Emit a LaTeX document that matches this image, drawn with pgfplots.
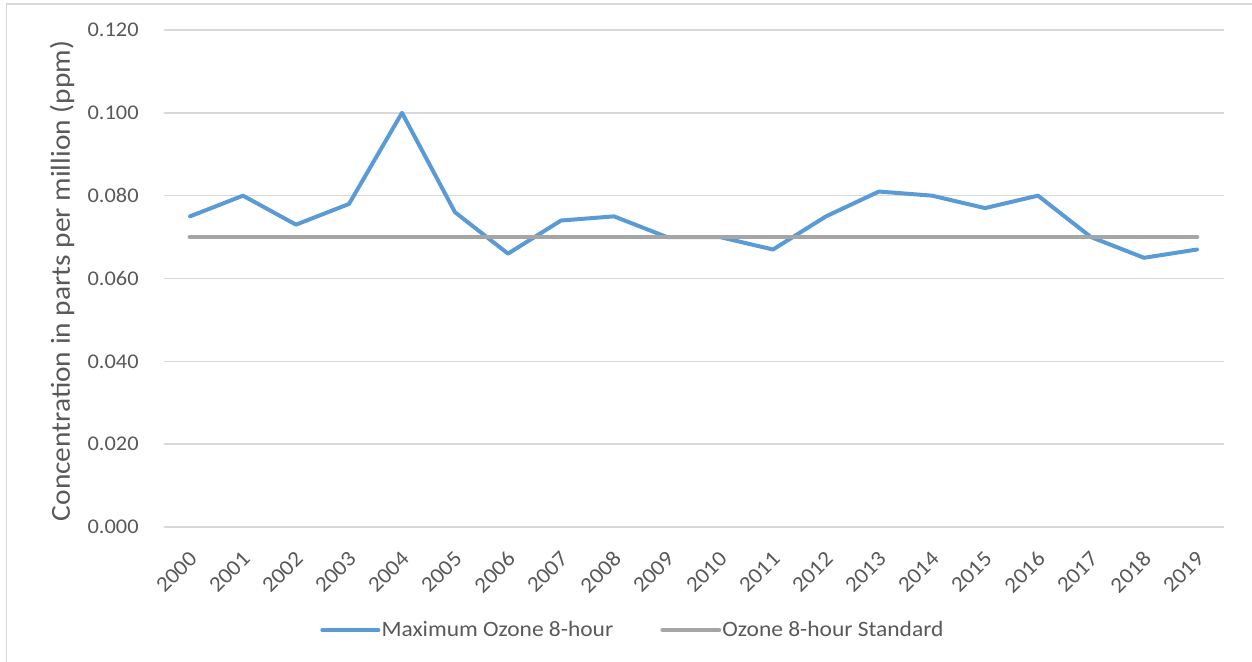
\documentclass[border=0pt]{standalone}
\usepackage{pgfplots}
\pgfplotsset{compat=1.18}
\usepackage{fontspec}
\setmainfont{Carlito}[FakeStretch=1.07]

\definecolor{txt}{HTML}{595959}
\definecolor{ozblue}{HTML}{5B9BD5}
\definecolor{ozgray}{HTML}{A5A5A5}
\definecolor{gridc}{HTML}{D9D9D9}

\begin{document}
\begin{tikzpicture}
\begin{axis}[
    at={(0,0)}, anchor=south west,
    scale only axis,
    width=530bp, height=248.5bp,
    xmin=-0.5, xmax=19.5,
    ymin=0, ymax=0.12,
    xtick={0,...,19},
    xticklabels={2000,2001,2002,2003,2004,2005,2006,2007,2008,2009,
                 2010,2011,2012,2013,2014,2015,2016,2017,2018,2019},
    ytick={0,0.02,0.04,0.06,0.08,0.1,0.12},
    axis line style={draw=none},
    major tick length=0pt,
    ymajorgrids=true,
    grid style={gridc, line width=0.7bp},
    tick label style={font=\fontsize{10.5}{12}\selectfont, text=txt},
    xticklabel style={font=\fontsize{11}{12}\selectfont,
        xshift=1.8bp, yshift=-14bp, rotate=45, anchor=east, inner sep=0pt},
    yticklabel style={anchor=east, inner sep=0pt, xshift=-12.25bp,
        /pgf/number format/.cd, fixed, fixed zerofill, precision=3,
        assume math mode=true},
    scaled y ticks=false,
    ylabel={Concentration in parts per million (ppm)},
    ylabel style={font=\fontsize{13.8}{15}\selectfont, text=txt,
        at={(axis description cs:0,0.495)}, anchor=center, inner sep=0pt, yshift=50.75bp},
    legend columns=2,
    legend style={at={(234.5bp,-51.5bp)}, anchor=center, draw=none,
        font=\fontsize{11}{12}\selectfont, text=txt,
        /tikz/every even column/.append style={column sep=23bp},
        /tikz/every node/.append style={inner sep=0.6bp}},
    legend image code/.code={\draw[#1] (0bp,0bp) -- (28bp,0bp);},
    clip=false,
]
\addplot[ozblue, line width=2bp, line join=round, line cap=round] coordinates {
    (0,0.075) (1,0.080) (2,0.073) (3,0.078) (4,0.100)
    (5,0.076) (6,0.066) (7,0.074) (8,0.075) (9,0.070)
    (10,0.070) (11,0.067) (12,0.075) (13,0.081) (14,0.080)
    (15,0.077) (16,0.080) (17,0.070) (18,0.065) (19,0.067)
};
\addlegendentry{Maximum Ozone 8-hour}
\addplot[ozgray, line width=2.4bp, line cap=round] coordinates {
    (0,0.070) (1,0.070) (2,0.070) (3,0.070) (4,0.070)
    (5,0.070) (6,0.070) (7,0.070) (8,0.070) (9,0.070)
    (10,0.070) (11,0.070) (12,0.070) (13,0.070) (14,0.070)
    (15,0.070) (16,0.070) (17,0.070) (18,0.070) (19,0.070)
};
\addlegendentry{Ozone 8-hour Standard}
\end{axis}
% chart frame (only top and left edges are inside the crop)
\draw[gridc, line width=0.9bp] (-78.5bp,-67.5bp) -- (-78.5bp,261.5bp) -- (544.25bp,261.5bp);
\pgfresetboundingbox
\path[use as bounding box] (-81.75bp,-67.5bp) rectangle (544.25bp,263.5bp);
\end{tikzpicture}
\end{document}
